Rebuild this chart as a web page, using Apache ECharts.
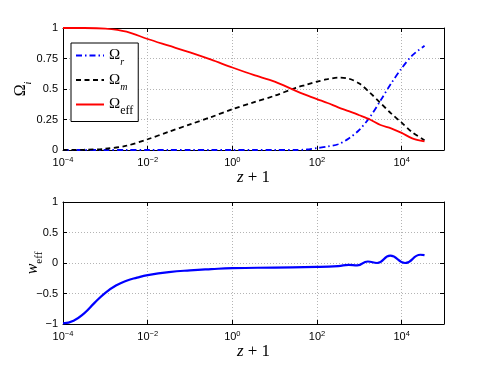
<!DOCTYPE html>
<html>
<head>
<meta charset="utf-8">
<script src="https://cdn.jsdelivr.net/npm/echarts@6/dist/echarts.min.js"></script>
<style>
  html, body { margin: 0; padding: 0; background: #fff; }
  #chart { width: 491px; height: 368px; }
</style>
</head>
<body>
<div id="chart"></div>
<script>
// log10(z+1) sample points, top panel
var logZTop = [-4, -3.5, -3, -2.5, -2, -1.5, -1, -0.5, 0, 0.5, 1, 1.5, 1.75, 2, 2.25, 2.5, 2.75, 3, 3.25, 3.5, 3.75, 4, 4.25, 4.54];
var omegaR = [0, 0, 0, 0, 0, 0, 0, 0, 0, 0, 0, 0, 0.004, 0.016, 0.028, 0.047, 0.095, 0.165, 0.27, 0.405, 0.545, 0.67, 0.775, 0.855];
var omegaM = [0, 0.002, 0.01, 0.035, 0.088, 0.15, 0.21, 0.27, 0.334, 0.39, 0.445, 0.51, 0.535, 0.56, 0.58, 0.594, 0.585, 0.545, 0.47, 0.385, 0.3, 0.224, 0.145, 0.08];
var omegaEff = [1, 1, 0.995, 0.97, 0.91, 0.855, 0.8, 0.74, 0.676, 0.615, 0.56, 0.485, 0.45, 0.417, 0.385, 0.35, 0.318, 0.285, 0.25, 0.205, 0.178, 0.14, 0.095, 0.07];

// bottom panel
var logZBottom = [-4, -3.75, -3.5, -3.25, -3, -2.75, -2.5, -2.25, -2, -1.5, -1, -0.5, 0, 1, 2, 2.5, 2.75, 2.95, 3.2, 3.42, 3.73, 4.08, 4.44, 4.54];
var wEff = [-0.99, -0.945, -0.825, -0.65, -0.49, -0.37, -0.29, -0.24, -0.2, -0.15, -0.12, -0.1, -0.085, -0.075, -0.065, -0.05, -0.03, -0.04, 0.025, 0.0, 0.12, 0.0, 0.135, 0.13];

var xTicks = [-4, -2, 0, 2, 4];

function pairs(xs, ys) {
  return xs.map(function (x, i) { return [x, ys[i]]; });
}

var chartDom = document.getElementById("chart");
var myChart = echarts.init(chartDom, null, { renderer: "canvas" });

var labelFont = "Liberation Sans";
var mathFont = "Liberation Serif";

var gridLine = { show: true, lineStyle: { color: "#b4b4b4", type: [1, 2], width: 1 } };
var tick = { show: true, inside: true, length: 4, lineStyle: { color: "#000" } };
var frameLine = { show: true, onZero: false, lineStyle: { color: "#000" } };

function xLabel(v) {
  if (xTicks.indexOf(v) < 0) return "";
  return "{b|10}{sup|" + String(v).replace("-", "\u2212") + "}";
}
var xLabelRich = {
  b: { fontSize: 11, fontFamily: labelFont, color: "#000", lineHeight: 14 },
  sup: { fontSize: 7.5, fontFamily: labelFont, color: "#000", verticalAlign: "top", lineHeight: 14 }
};

function xAxisMain(gridIndex) {
  return {
    type: "value",
    gridIndex: gridIndex,
    min: -4,
    max: 5,
    interval: 2,
    name: "{i|z} + 1",
    nameLocation: "middle",
    nameGap: 19,
    nameMoveOverlap: false,
    nameTextStyle: {
      fontFamily: mathFont, fontSize: 17, color: "#000",
      rich: { i: { fontFamily: mathFont, fontStyle: "italic", fontSize: 17, color: "#000" } }
    },
    axisLine: frameLine,
    axisTick: tick,
    splitLine: gridLine,
    axisLabel: { margin: 6, formatter: xLabel, rich: xLabelRich, showMaxLabel: false }
  };
}
// mirrored axes for the tick marks on top / right
function xAxisMirror(gridIndex) {
  return {
    type: "value", gridIndex: gridIndex, position: "top", min: -4, max: 5, interval: 2,
    axisLine: frameLine, axisTick: tick,
    axisLabel: { show: false }, splitLine: { show: false }
  };
}
function yAxisMirror(gridIndex, min, max, interval) {
  return {
    type: "value", gridIndex: gridIndex, position: "right", min: min, max: max, interval: interval,
    axisLine: frameLine, axisTick: tick,
    axisLabel: { show: false }, splitLine: { show: false }
  };
}

var option = {
  animation: false,
  backgroundColor: "#fff",
  grid: [
    { left: 63, top: 28, width: 381, height: 122 },
    { left: 63, top: 202, width: 381, height: 122 }
  ],
  legend: {
    orient: "vertical",
    left: 71,
    top: 43,
    padding: [5, 5, 5, 4],
    itemWidth: 28,
    itemHeight: 12,
    itemGap: 5,
    backgroundColor: "#fff",
    borderColor: "#000",
    borderWidth: 1,
    borderRadius: 0,
    itemStyle: { opacity: 0 },
    data: ["r", "m", "eff"],
    formatter: function (name) {
      return "{o|\u03a9}{" + (name === "eff" ? "se" : "s") + "|" + name + "}";
    },
    textStyle: {
      color: "#000",
      rich: {
        o: { fontFamily: mathFont, fontSize: 15, color: "#000", lineHeight: 16 },
        s: { fontFamily: mathFont, fontStyle: "italic", fontSize: 10, color: "#000", verticalAlign: "bottom", lineHeight: 16, padding: [0, 0, -4, 0] },
        se: { fontFamily: mathFont, fontSize: 12, color: "#000", verticalAlign: "bottom", lineHeight: 16, padding: [0, 0, -4, 0] }
      }
    }
  },
  xAxis: [xAxisMain(0), xAxisMain(1), xAxisMirror(0), xAxisMirror(1)],
  yAxis: [
    {
      type: "value", gridIndex: 0, min: 0, max: 1, interval: 0.25,
      name: "{o|\u03a9}{s|i}",
      nameLocation: "middle", nameRotate: 90, nameGap: 34, nameMoveOverlap: false,
      nameTextStyle: {
        color: "#000",
        rich: {
          o: { fontFamily: mathFont, fontSize: 16, color: "#000" },
          s: { fontFamily: mathFont, fontStyle: "italic", fontSize: 10, color: "#000", verticalAlign: "bottom", padding: [0, 0, -4, 0] }
        }
      },
      axisLine: frameLine,
      axisTick: tick,
      splitLine: gridLine,
      axisLabel: { margin: 5, color: "#000", fontSize: 11, fontFamily: labelFont }
    },
    {
      type: "value", gridIndex: 1, min: -1, max: 1, interval: 0.5,
      name: "{i|w}{s|eff}",
      nameLocation: "middle", nameRotate: 90, nameGap: 22, nameMoveOverlap: false,
      nameTextStyle: {
        color: "#000",
        rich: {
          i: { fontFamily: mathFont, fontStyle: "italic", fontSize: 16, color: "#000" },
          s: { fontFamily: mathFont, fontSize: 11, color: "#000", verticalAlign: "bottom", padding: [0, 0, -4, 0] }
        }
      },
      axisLine: frameLine,
      axisTick: tick,
      splitLine: gridLine,
      axisLabel: {
        margin: 5, color: "#000", fontSize: 11, fontFamily: labelFont,
        formatter: function (v) { return String(v).replace("-", "\u2212"); }
      }
    },
    yAxisMirror(0, 0, 1, 0.25),
    yAxisMirror(1, -1, 1, 0.5)
  ],
  series: [
    {
      name: "r", type: "line", xAxisIndex: 0, yAxisIndex: 0,
      data: pairs(logZTop, omegaR), smooth: 0.3, showSymbol: false, symbol: "none",
      itemStyle: { color: "#0000ff" },
      lineStyle: { color: "#0000ff", width: 1.8, type: [6, 3, 1.5, 3] }
    },
    {
      name: "m", type: "line", xAxisIndex: 0, yAxisIndex: 0,
      data: pairs(logZTop, omegaM), smooth: 0.3, showSymbol: false, symbol: "none",
      itemStyle: { color: "#000" },
      lineStyle: { color: "#000", width: 1.8, type: [5, 3.5] }
    },
    {
      name: "eff", type: "line", xAxisIndex: 0, yAxisIndex: 0,
      data: pairs(logZTop, omegaEff), smooth: 0.3, showSymbol: false, symbol: "none",
      itemStyle: { color: "#ff0000" },
      lineStyle: { color: "#ff0000", width: 1.8 }
    },
    {
      name: "w", type: "line", xAxisIndex: 1, yAxisIndex: 1,
      data: pairs(logZBottom, wEff), smooth: 0.5, showSymbol: false, symbol: "none",
      itemStyle: { color: "#0000ff" },
      lineStyle: { color: "#0000ff", width: 2.2 }
    }
  ]
};

option && myChart.setOption(option);
</script>
</body>
</html>
